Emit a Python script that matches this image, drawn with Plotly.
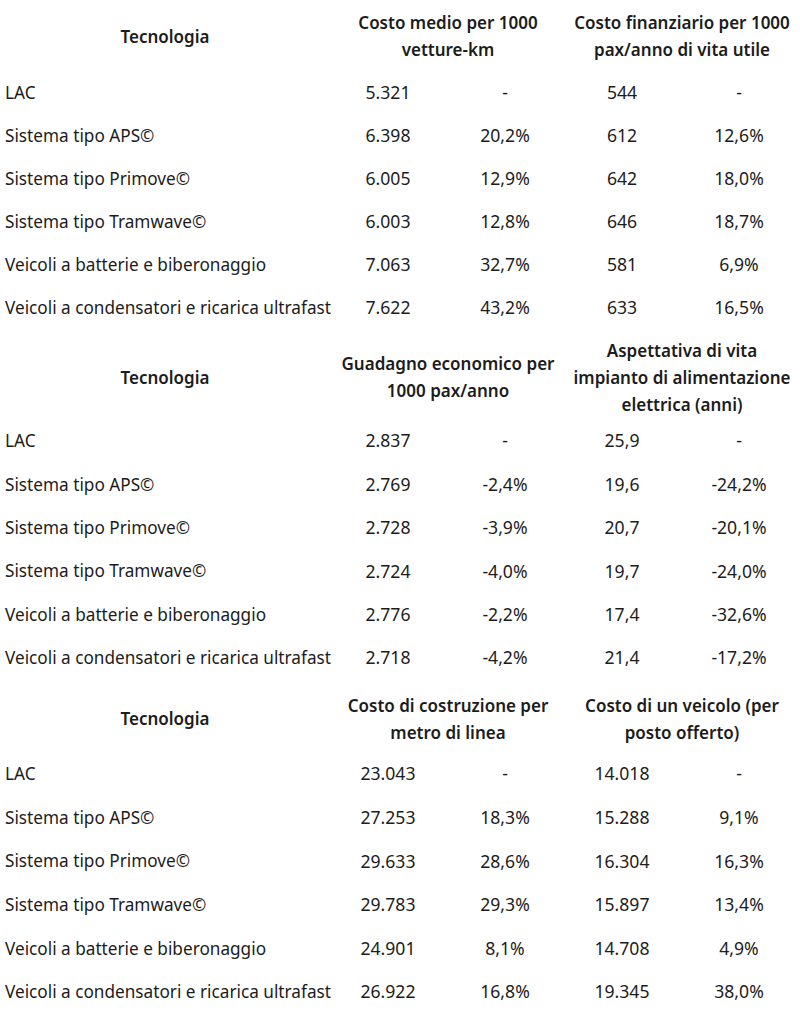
import plotly.graph_objects as go

# ---------------- data ----------------
tecnologie = [
    "LAC",
    "Sistema tipo APS©",
    "Sistema tipo Primove©",
    "Sistema tipo Tramwave©",
    "Veicoli a batterie e biberonaggio",
    "Veicoli a condensatori e ricarica ultrafast",
]
header_tecnologia = "Tecnologia"

# Table 1
t1_head_a = ["Costo medio per 1000", "vetture-km"]
t1_head_b = ["Costo finanziario per 1000", "pax/anno di vita utile"]
t1_val_a = ["5.321", "6.398", "6.005", "6.003", "7.063", "7.622"]
t1_pct_a = ["-", "20,2%", "12,9%", "12,8%", "32,7%", "43,2%"]
t1_val_b = ["544", "612", "642", "646", "581", "633"]
t1_pct_b = ["-", "12,6%", "18,0%", "18,7%", "6,9%", "16,5%"]

# Table 2
t2_head_a = ["Guadagno economico per", "1000 pax/anno"]
t2_head_b = ["Aspettativa di vita", "impianto di alimentazione", "elettrica (anni)"]
t2_val_a = ["2.837", "2.769", "2.728", "2.724", "2.776", "2.718"]
t2_pct_a = ["-", "-2,4%", "-3,9%", "-4,0%", "-2,2%", "-4,2%"]
t2_val_b = ["25,9", "19,6", "20,7", "19,7", "17,4", "21,4"]
t2_pct_b = ["-", "-24,2%", "-20,1%", "-24,0%", "-32,6%", "-17,2%"]

# Table 3
t3_head_a = ["Costo di costruzione per", "metro di linea"]
t3_head_b = ["Costo di un veicolo (per", "posto offerto)"]
t3_val_a = ["23.043", "27.253", "29.633", "29.783", "24.901", "26.922"]
t3_pct_a = ["-", "18,3%", "28,6%", "29,3%", "8,1%", "16,8%"]
t3_val_b = ["14.018", "15.288", "16.304", "15.897", "14.708", "19.345"]
t3_pct_b = ["-", "9,1%", "16,3%", "13,4%", "4,9%", "38,0%"]

tables = [
    (t1_head_a, t1_head_b, t1_val_a, t1_pct_a, t1_val_b, t1_pct_b),
    (t2_head_a, t2_head_b, t2_val_a, t2_pct_a, t2_val_b, t2_pct_b),
    (t3_head_a, t3_head_b, t3_val_a, t3_pct_a, t3_val_b, t3_pct_b),
]

# ---------------- layout constants ----------------
W, H = 800, 1016
FONT = "Noto Sans"
SIZE_NAME = 17.2
SIZE_NUM = 17.6
SIZE_HEAD = 17.0
COLOR = "#1c1c1c"
DY = 2  # glyph-centre correction
header_y = [36.5, 377.5, 719]
first_row_y = [93, 441, 774]
row_step = [43.0, 43.4, 43.6]
head_a_x = 448
head_b_x = 682
tec_x = 165
name_x = 5
col_x = [388, 505, 622, 739]
line_gap = 27

fig = go.Figure()

def add_text(xs, ys, texts, pos, size, bold=False):
    fig.add_trace(go.Scatter(
        x=xs, y=[y + DY for y in ys], text=texts, mode="text", textposition=pos,
        textfont=dict(family=FONT, size=size, color=COLOR,
                      weight=600 if bold else 400),
        hoverinfo="skip", showlegend=False, cliponaxis=False,
    ))

for ti, (ha, hb, va, pa, vb, pb) in enumerate(tables):
    hy = header_y[ti]
    add_text([tec_x], [hy], [header_tecnologia], "middle center", SIZE_HEAD, bold=True)
    for hx, lines in ((head_a_x, ha), (head_b_x, hb)):
        n = len(lines)
        ys = [hy + (k - (n - 1) / 2) * line_gap for k in range(n)]
        add_text([hx] * n, ys, lines, "middle center", SIZE_HEAD, bold=True)
    rows_y = [first_row_y[ti] + i * row_step[ti] for i in range(len(tecnologie))]
    add_text([name_x] * len(tecnologie), rows_y, tecnologie, "middle right", SIZE_NAME)
    for cx, col in zip(col_x, (va, pa, vb, pb)):
        add_text([cx] * len(col), rows_y, col, "middle center", SIZE_NUM)

fig.update_layout(
    width=W, height=H,
    margin=dict(l=0, r=0, t=0, b=0),
    paper_bgcolor="white", plot_bgcolor="white",
    xaxis=dict(range=[0, W], visible=False, fixedrange=True),
    yaxis=dict(range=[H, 0], visible=False, fixedrange=True),
)

# remove the page's default 8px body margin so the figure fills the window
fig.write_html("out.html", config={"displayModeBar": False},
               post_script="document.body.style.margin='0';")
